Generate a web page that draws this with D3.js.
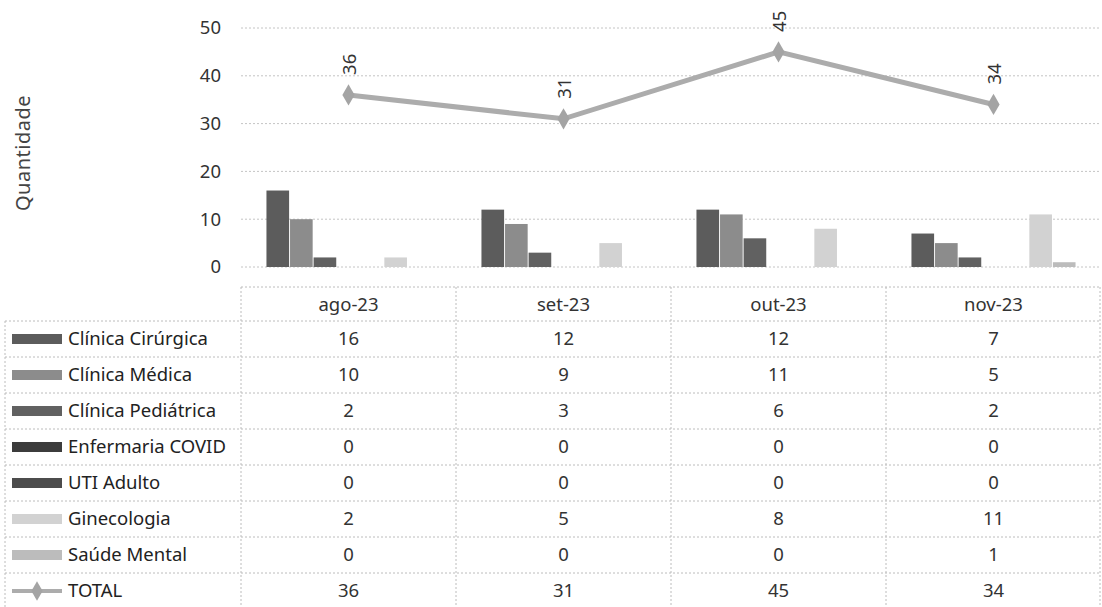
<!DOCTYPE html>
<html><head><meta charset="utf-8">
<script src="https://cdn.jsdelivr.net/npm/d3@7"></script>
<style>body{margin:0;background:#fff}svg{display:block}text{font-family:"Noto Sans",sans-serif}</style>
</head><body>
<svg id="c" width="1102" height="607"></svg>
<script>
const months = ["ago-23","set-23","out-23","nov-23"];
const series = ["Clínica Cirúrgica","Clínica Médica","Clínica Pediátrica","Enfermaria COVID","UTI Adulto","Ginecologia","Saúde Mental"];
const cirurgica = [16,12,12,7];
const medica = [10,9,11,5];
const pediatrica = [2,3,6,2];
const covid = [0,0,0,0];
const uti = [0,0,0,0];
const ginecologia = [2,5,8,11];
const saudeMental = [0,0,0,1];
const total = [36,31,45,34];
const yTicks = [0,10,20,30,40,50];
const seriesValues = [cirurgica, medica, pediatrica, covid, uti, ginecologia, saudeMental];
const colors = ["#5c5c5c","#8c8c8c","#616161","#3c3c3c","#4c4c4c","#d2d2d2","#bcbcbc"];

const FS = 18.5;
const svg = d3.select("#c");
const L = 241, R = 1101, T = 28, B = 267;
const x = d3.scaleBand().domain(months).range([L, R]).padding(0);
const x1 = d3.scaleBand().domain(series).range([0, x.bandwidth()]).paddingOuter(1.08).paddingInner(0.04);
const y = d3.scaleLinear().domain([0, 50]).range([B, T]);

// gridlines
svg.append("g").selectAll("line").data(yTicks).join("line")
  .attr("x1", L).attr("x2", R).attr("y1", d => y(d)).attr("y2", d => y(d))
  .attr("stroke", "#c4c4c4").attr("stroke-width", 1).attr("stroke-dasharray", "2,2");

// y axis labels
const yAxis = d3.axisLeft(y).tickValues(yTicks).tickSize(0).tickPadding(0);
const ya = svg.append("g").attr("transform", `translate(221,0)`).call(yAxis);
ya.select(".domain").remove();
ya.selectAll("text").attr("font-size", FS).attr("fill", "#333").attr("font-family", "Noto Sans");

svg.append("text").attr("transform", `translate(30,153) rotate(-90)`)
  .attr("text-anchor", "middle").attr("font-size", 20).attr("letter-spacing", 0.5).attr("fill", "#444").text("Quantidade");

// bars
series.forEach((s, si) => {
  svg.append("g").selectAll("rect").data(months).join("rect")
    .attr("x", (m) => x(m) + x1(s))
    .attr("width", x1.bandwidth())
    .attr("y", (m, i) => y(seriesValues[si][i]))
    .attr("height", (m, i) => y(0) - y(seriesValues[si][i]))
    .attr("fill", colors[si]);
});

// total line
const cx = m => x(m) + x.bandwidth() / 2;
const line = d3.line().x((d, i) => cx(months[i])).y(d => y(d));
svg.append("path").datum(total).attr("d", line).attr("fill", "none")
  .attr("stroke", "#acacac").attr("stroke-width", 5);
svg.append("g").selectAll("path").data(total).join("path")
  .attr("d", d3.symbol().type(d3.symbolDiamond).size(130))
  .attr("transform", (d, i) => `translate(${cx(months[i])},${y(d)})`)
  .attr("fill", "#a4a4a4");
svg.append("g").selectAll("text").data(total).join("text")
  .attr("transform", (d, i) => `translate(${cx(months[i]) + 7},${y(d) - 20}) rotate(-90)`)
  .attr("font-size", FS).attr("fill", "#333").text(d => d);

// data table
const rowTop = 321, rowH = 36, headTop = 287;
const rows = series.concat(["TOTAL"]);
const rowVals = seriesValues.concat([total]);
const ry = d3.scaleBand().domain(rows).range([rowTop, rowTop + rowH * rows.length]);
const grid = svg.append("g").attr("stroke", "#bcbcbc").attr("stroke-dasharray", "2,2").attr("stroke-width", 1);
grid.append("line").attr("x1", L).attr("x2", R).attr("y1", headTop).attr("y2", headTop);
rows.forEach(r => {
  grid.append("line").attr("x1", 5).attr("x2", R).attr("y1", ry(r)).attr("y2", ry(r));
});
grid.append("line").attr("x1", 5).attr("x2", R).attr("y1", rowTop + rowH * rows.length - 1).attr("y2", rowTop + rowH * rows.length - 1);
months.concat([null]).forEach((m, i) => {
  const xx = m ? x(m) : R - 1;
  grid.append("line").attr("x1", xx).attr("x2", xx).attr("y1", headTop).attr("y2", 607);
});
grid.append("line").attr("x1", 5).attr("x2", 5).attr("y1", rowTop).attr("y2", 607);

svg.append("g").selectAll("text").data(months).join("text")
  .attr("x", m => cx(m)).attr("y", headTop + 18).attr("dy", "0.35em")
  .attr("text-anchor", "middle").attr("font-size", FS).attr("fill", "#333").text(m => m);

rows.forEach((r, ri) => {
  const yc = ry(r) + rowH / 2;
  svg.append("g").selectAll("text").data(rowVals[ri]).join("text")
    .attr("x", (d, i) => cx(months[i])).attr("y", yc).attr("dy", "0.35em")
    .attr("text-anchor", "middle").attr("font-size", FS).attr("fill", "#333").text(d => d);
  svg.append("text").attr("x", 68).attr("y", yc).attr("dy", "0.35em")
    .attr("font-size", FS).attr("fill", "#222").text(r);
  if (ri < series.length) {
    svg.append("rect").attr("x", 12).attr("y", yc - 5).attr("width", 50).attr("height", 10).attr("fill", colors[ri]);
  } else {
    svg.append("line").attr("x1", 12).attr("x2", 62).attr("y1", yc).attr("y2", yc).attr("stroke", "#acacac").attr("stroke-width", 4);
    svg.append("path").attr("d", d3.symbol().type(d3.symbolDiamond).size(110)).attr("transform", `translate(37,${yc})`).attr("fill", "#a4a4a4");
  }
});
</script>
</body></html>
